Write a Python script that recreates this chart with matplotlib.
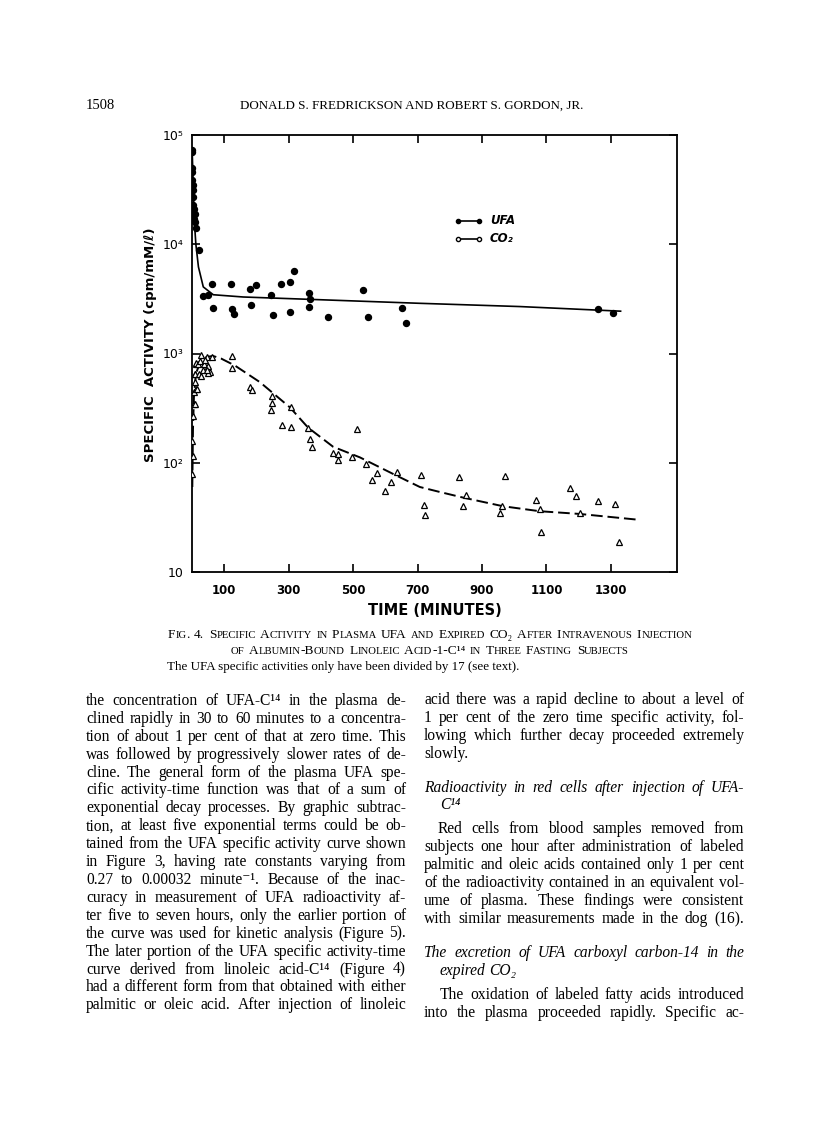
import matplotlib
matplotlib.use("Agg")
import matplotlib.pyplot as plt

W, H = 816, 1127
SERIF = ["Liberation Serif", "DejaVu Serif"]
SANS = ["DejaVu Sans"]

# ── chart data ───────────────────────────────────────────────────────────
# UFA specific activity (filled circles), time in minutes
ufa_t = [0.5, 1, 1, 1.5, 1, 2, 3, 4, 4, 6, 7, 10, 7, 9, 11, 21,
         34, 51, 63, 66, 120, 124, 130, 179, 184, 198, 246, 252, 275,
         304, 304, 315, 363, 366, 363, 422, 531, 545, 653, 663, 1260, 1305]
ufa_v = [72800, 70300, 49400, 46100, 38600, 34700, 31300, 27200, 22800,
         21200, 19100, 19100, 17200, 16000, 14200, 8940,
         3360, 3450, 4370, 2610, 4330, 2550, 2310, 3930, 2800, 4240, 3410,
         2260, 4300, 4480, 2380, 5690, 3610, 3130, 2640, 2150, 3810, 2140,
         2610, 1920, 2570, 2360]

# fitted UFA curve (solid)
ufa_fit_t = [0.5, 4, 7, 12, 20, 35, 66, 159, 366, 707, 1017, 1330]
ufa_fit_v = [72000, 33600, 16600, 10000, 6200, 4070, 3450, 3290, 3130,
             2880, 2690, 2440]

# expired CO2 specific activity (open triangles)
co2_t = [1, 2, 1, 3, 5, 6, 8, 10, 12,
         8, 12, 16, 10, 22, 12, 29, 33, 37, 45, 51, 56, 51, 61, 27, 18, 25,
         40, 48,
         125, 125, 180, 186, 249, 247, 246, 280, 306, 308, 360, 365, 373,
         437, 454, 452, 511, 497, 540, 559, 575, 600, 616, 635, 710, 720,
         723, 828, 850, 840, 970, 955, 962, 1067, 1081, 1082, 1173, 1191,
         1203, 1261, 1314, 1324]
co2_v = [79, 116, 159, 269, 345, 442, 546, 645, 795,
         345, 474, 474, 652, 652, 815, 959, 699, 803, 925, 776, 673, 665,
         925, 628, 800, 850, 880, 700,
         944, 740, 491, 468, 406, 353, 305, 223, 327, 214, 208, 165, 138,
         124, 120, 106, 204, 113, 98, 69, 81, 55, 66, 83, 77, 41,
         33, 74, 51, 40, 75, 35, 40, 46, 38, 23, 59, 50,
         35, 45, 42, 19]

# fitted CO2 curve (dashed)
co2_fit_t = [1, 3, 6, 12, 25, 45, 65, 90, 133, 211, 304, 360, 438, 521,
             624, 707, 769, 841, 965, 1079, 1203, 1389]
co2_fit_v = [60, 200, 400, 650, 830, 930, 950, 900, 776, 546, 321, 210,
             140, 112, 79, 60, 54, 48, 40, 36, 34, 30]

x_ticks = [100, 300, 500, 700, 900, 1100, 1300]
y_ticks = [10, 100, 1000, 10000, 100000]
y_tick_labels = ["10", "10²", "10³", "10⁴", "10⁵"]

# ── page text ────────────────────────────────────────────────────────────
header_left = "1508"
header_mid = "DONALD S. FREDRICKSON AND ROBERT S. GORDON, JR."

caption_1 = ("Fig. 4.  Specific Activity in Plasma UFA and Expired CO₂ "
             "After Intravenous Injection")
caption_2 = "of Albumin-Bound Linoleic Acid-1-C¹⁴ in Three Fasting Subjects"
caption_3 = "The UFA specific activities only have been divided by 17 (see text)."

left_col = [
    "the concentration of UFA-C¹⁴ in the plasma de-",
    "clined rapidly in 30 to 60 minutes to a concentra-",
    "tion of about 1 per cent of that at zero time. This",
    "was followed by progressively slower rates of de-",
    "cline. The general form of the plasma UFA spe-",
    "cific activity-time function was that of a sum of",
    "exponential decay processes. By graphic subtrac-",
    "tion, at least five exponential terms could be ob-",
    "tained from the UFA specific activity curve shown",
    "in Figure 3, having rate constants varying from",
    "0.27 to 0.00032 minute⁻¹. Because of the inac-",
    "curacy in measurement of UFA radioactivity af-",
    "ter five to seven hours, only the earlier portion of",
    "the curve was used for kinetic analysis (Figure 5).",
    "The later portion of the UFA specific activity-time",
    "curve derived from linoleic acid-C¹⁴ (Figure 4)",
    "had a different form from that obtained with either",
    "palmitic or oleic acid. After injection of linoleic",
]

# (text, y centre, indent, style, justified)
right_col = [
    ("acid there was a rapid decline to about a level of", 698, 0, "normal", True),
    ("1 per cent of the zero time specific activity, fol-", 716, 0, "normal", True),
    ("lowing which further decay proceeded extremely", 734, 0, "normal", True),
    ("slowly.", 752, 0, "normal", False),
    ("Radioactivity in red cells after injection of UFA-", 786, 0, "italic", True),
    ("C¹⁴", 803, 16, "italic", False),
    ("Red cells from blood samples removed from", 827, 14, "normal", True),
    ("subjects one hour after administration of labeled", 845, 0, "normal", True),
    ("palmitic and oleic acids contained only 1 per cent", 863, 0, "normal", True),
    ("of the radioactivity contained in an equivalent vol-", 881, 0, "normal", True),
    ("ume of plasma. These findings were consistent", 899, 0, "normal", True),
    ("with similar measurements made in the dog (16).", 917, 0, "normal", True),
    ("The excretion of UFA carboxyl carbon-14 in the", 951, 0, "italic", True),
    ("expired CO₂", 969, 16, "italic", False),
    ("The oxidation of labeled fatty acids introduced", 993, 16, "normal", True),
    ("into the plasma proceeded rapidly. Specific ac-", 1011, 0, "normal", True),
]

LEFT_X, RIGHT_X, COL_W = 86, 424, 320

fig = plt.figure(figsize=(W / 100, H / 100), dpi=100)
fig.patch.set_facecolor("white")
renderer = fig.canvas.get_renderer()


def fxy(x, y):
    return x / W, 1 - y / H


def text_width(s, size, style="normal", family=SERIF, weight="normal"):
    t = fig.text(0, 0, s, fontsize=size, style=style, family=family,
                 weight=weight)
    w = t.get_window_extent(renderer).width
    t.remove()
    return w


def space_width(size, style="normal"):
    return text_width("a a", size, style) - text_width("aa", size, style)


def put_line(x0, yc, line, size, width, style="normal", justify=True):
    words = line.split()
    ws = [text_width(w, size, style) for w in words]
    if justify and len(words) > 1:
        gap = (width - sum(ws)) / (len(words) - 1)
    else:
        gap = space_width(size, style)
    x = x0
    for w, wd in zip(words, ws):
        fig.text(*fxy(x, yc), w, fontsize=size, style=style, family=SERIF,
                 va="center_baseline", ha="left")
        x += wd + gap


def smallcaps_runs(word, size):
    runs, cur, cur_small = [], "", None
    for ch in word:
        small = ch.islower()
        if cur and small != cur_small:
            runs.append((cur, size * 0.8 if cur_small else size))
            cur = ""
        cur += ch.upper() if small else ch
        cur_small = small
    if cur:
        runs.append((cur, size * 0.8 if cur_small else size))
    return runs


def put_smallcaps(xc, yc, line, size):
    words = [smallcaps_runs(w, size) for w in line.split()]
    gap = space_width(size) * 1.3
    widths = [[text_width(s, sz) for s, sz in runs] for runs in words]
    total = sum(sum(w) for w in widths) + gap * (len(words) - 1)
    x = xc - total / 2
    for runs, wl in zip(words, widths):
        for (s, sz), wd in zip(runs, wl):
            fig.text(*fxy(x, yc), s, fontsize=sz, family=SERIF,
                     va="baseline", ha="left")
            x += wd
        x += gap


# ── header ───────────────────────────────────────────────────────────────
fig.text(*fxy(LEFT_X, 109), header_left, fontsize=10.5, family=SERIF,
         va="baseline", ha="left")
fig.text(*fxy(412, 109), header_mid, fontsize=9.4, family=SERIF,
         va="baseline", ha="center")

# ── chart ────────────────────────────────────────────────────────────────
ax = fig.add_axes([192 / W, 1 - 572 / H, 485 / W, 437 / H])
ax.set_yscale("log")
ax.set_xlim(0, 1505)
ax.set_ylim(10, 1e5)

ax.plot(ufa_fit_t, ufa_fit_v, color="black", lw=1.2, zorder=2)
ax.plot(co2_fit_t, co2_fit_v, color="black", lw=1.4, dashes=(6, 2.5),
        zorder=2)
ax.plot(ufa_t, ufa_v, "o", ms=4.3, color="black", zorder=3)
ax.plot(co2_t, co2_v, "^", ms=3.8, mfc="white", mec="black", mew=0.9,
        zorder=3)

ax.set_xticks(x_ticks)
ax.set_xticklabels([str(v) for v in x_ticks], fontsize=8.5, weight="bold",
                   family=SANS)
ax.set_yticks(y_ticks)
ax.set_yticklabels(y_tick_labels, fontsize=9, family=SANS)
ax.yaxis.set_minor_locator(matplotlib.ticker.NullLocator())
ax.tick_params(axis="x", direction="in", length=6, width=1.2, top=True,
               pad=9)
ax.tick_params(axis="y", direction="in", length=6, width=1.2, right=True,
               pad=6)
for s in ax.spines.values():
    s.set_linewidth(1.3)

ax.set_xlabel("TIME (MINUTES)", fontsize=10.5, weight="bold", family=SANS,
              labelpad=4)
ax.set_ylabel("SPECIFIC  ACTIVITY (cpm/mM/ℓ)", fontsize=9.5, weight="bold",
              family=SANS)
ax.yaxis.set_label_coords((157 - 192) / 485, (572 - 345) / 437)

# legend drawn by hand, like the original lettering
lx0, lx1 = (458 - 192) / 485, (479 - 192) / 485
for yy, mk, fc, lab in [((572 - 221) / 437, "o", "black", "UFA"),
                        ((572 - 239) / 437, "o", "white", "CO₂")]:
    ax.plot([lx0, lx1], [yy, yy], "-", marker=mk, ms=3, mfc=fc, mec="black",
            color="black", lw=1.2, transform=ax.transAxes)
    ax.text((490 - 192) / 485, yy, lab, transform=ax.transAxes, fontsize=8.5,
            style="italic", weight="bold", family=SANS, va="center")

# ── caption ──────────────────────────────────────────────────────────────
put_smallcaps(430, 638, caption_1, 9.6)
put_smallcaps(430, 654, caption_2, 9.6)
fig.text(*fxy(167, 670), caption_3, fontsize=9.4, family=SERIF,
         va="baseline", ha="left")

# ── body text in two justified columns ───────────────────────────────────
base = 10.0
natural = max(text_width(l, base) for l in left_col)
body_size = base * COL_W * 0.985 / natural

for i, line in enumerate(left_col):
    put_line(LEFT_X, 699 + 17.9 * i, line, body_size, COL_W)

for line, yc, ind, style, just in right_col:
    put_line(RIGHT_X + ind, yc, line, body_size, COL_W - ind, style, just)

fig.savefig("out.png", dpi=100, facecolor="white")
